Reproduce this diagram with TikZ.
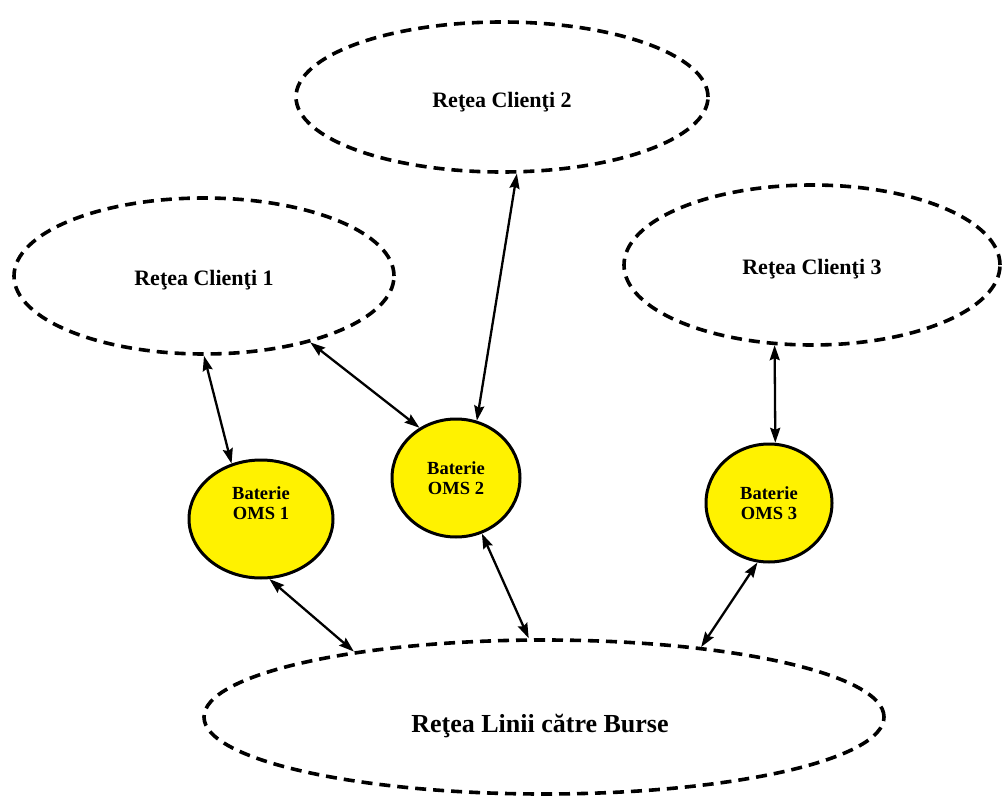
\documentclass[tikz,border=0pt]{standalone}
\usepackage{fontspec}
\setmainfont{Liberation Serif}
\usetikzlibrary{shapes.geometric,arrows.meta}
\begin{document}
\begin{tikzpicture}[x=1pt,y=-1pt,
  net/.style={ellipse,draw,line width=3.6pt,dash pattern=on 11pt off 7pt,inner sep=0pt},
  nettext/.style={font=\bfseries\fontsize{22}{24}\selectfont,yshift=-4pt},
  oms/.style={ellipse,draw,line width=3pt,fill=yellow,inner sep=0pt},
  omstext/.style={align=center,font=\bfseries\fontsize{18.5}{20}\selectfont},
  tip/.tip={Stealth[length=15pt,width=10pt,inset=2pt]},
  link/.style={line width=2.3pt,tip-tip}]
\useasboundingbox (0,0) rectangle (1002,800);
% client networks
\node[net,minimum width=380pt,minimum height=156pt,
  label={[nettext]center:Reţea Clienţi 1}] (c1) at (204,276) {};
\node[net,minimum width=412pt,minimum height=150pt,
  label={[nettext,yshift=-1pt]center:Reţea Clienţi 2}] (c2) at (502,97) {};
\node[net,minimum width=376pt,minimum height=160pt,
  label={[nettext]center:Reţea Clienţi 3}] (c3) at (812,265) {};
% exchange lines network
\node[net,minimum width=680pt,minimum height=154pt,
  label={[nettext,font=\bfseries\fontsize{26}{28}\selectfont,yshift=-5pt,xshift=-4pt]center:Reţea Linii către Burse}] (b) at (544,717) {};
% OMS batteries
\node[oms,minimum width=144pt,minimum height=118pt,
  label={[omstext,yshift=16pt]center:Baterie\\OMS 1}] (o1) at (261,519) {};
\node[oms,minimum width=128pt,minimum height=118pt,
  label={[omstext]center:Baterie\\OMS 2}] (o2) at (456,478) {};
\node[oms,minimum width=126pt,minimum height=118pt,
  label={[omstext]center:Baterie\\OMS 3}] (o3) at (769,503) {};
% links
\draw[link] (c1.-90) -- (o1.118);
\draw[link] (c1.-32) -- (o2.126);
\draw[link] (c2.-79) -- (o2.70);
\draw[link] (c3.-115) -- (o3.84);
\draw[link] (o1.-82) -- (b.161);
\draw[link] (o2.-65) -- (b.101);
\draw[link] (o3.-101) -- (b.24);
\end{tikzpicture}
\end{document}
